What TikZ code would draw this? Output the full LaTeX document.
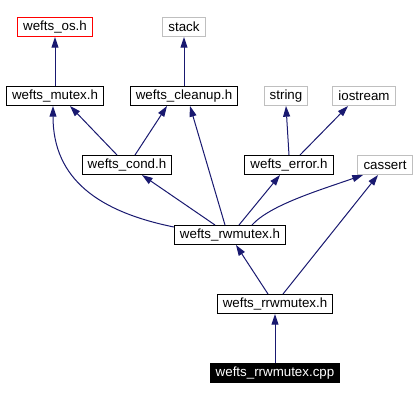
\documentclass[tikz,border=0pt]{standalone}
\usepackage{fontspec}
\setmainfont{Liberation Sans}
\usepackage{xcolor}
\definecolor{edgeblue}{HTML}{191970}
\definecolor{sysgray}{HTML}{BFBFBF}
\definecolor{rootred}{HTML}{FF0000}
\usetikzlibrary{arrows.meta, positioning, calc}

\begin{document}
\begin{tikzpicture}[
        x=0.75pt, y=-0.75pt,
        font=\fontsize{10}{12}\selectfont,
        file_box/.style={
            rectangle,
            draw=black,
            fill=white,
            line width=0.75pt,
            inner xsep=4.2pt,
            inner ysep=0pt,
            minimum height=14.25pt
        },
        sys_box/.style={file_box, draw=sysgray},
        root_box/.style={file_box, draw=rootred},
        main_box/.style={file_box, fill=black, text=white},
        edge/.style={
            -{Triangle[length=8pt, width=5.25pt]},
            draw=edgeblue,
            line width=0.75pt
        }
    ]
    \useasboundingbox (0,0) rectangle (418,401);

    % Top row
    \node[root_box] (os) at (55,27) {wefts\_os.h};
    \node[sys_box] (stack) at (184,27) {stack};

    % Second row
    \node[file_box] (mutex) at (55,96) {wefts\_mutex.h};
    \node[file_box] (cleanup) at (184,96) {wefts\_cleanup.h};
    \node[sys_box] (string) at (286,96) {string};
    \node[sys_box] (iostream) at (364,96) {iostream};

    % Third row
    \node[file_box] (cond) at (127,165) {wefts\_cond.h};
    \node[file_box] (error) at (289,165) {wefts\_error.h};
    \node[sys_box] (cassert) at (385,165) {cassert};

    % Lower chain
    \node[file_box] (rw) at (230,235) {wefts\_rwmutex.h};
    \node[file_box] (rrw) at (275,304) {wefts\_rrwmutex.h};
    \node[main_box] (cpp) at (275,373) {wefts\_rrwmutex.cpp};

    % Include edges
    \draw[edge] (mutex.north) -- (os.south);
    \draw[edge] (cleanup.north) -- (stack.south);
    \draw[edge] ($(cond.north)+(-10,0)$) -- ($(mutex.south)+(15,0)$);
    \draw[edge] ($(cond.north)+(8,0)$) -- ($(cleanup.south)+(-17,0)$);
    \draw[edge] (error.north) -- (string.south);
    \draw[edge] ($(error.north)+(11,0)$) -- ($(iostream.south)+(-16,0)$);

    % Edges from wefts_rwmutex.h
    \draw[edge] ($(rw.north west)+(0,2)$) .. controls (100,212) and (53,180) .. ($(mutex.south)+(-2,0)$);
    \draw[edge] ($(rw.north)+(-15,0)$) -- ($(cond.south)+(15,0)$);
    \draw[edge] ($(rw.north)+(-5,0)$) -- ($(cleanup.south)+(6,0)$);
    \draw[edge] ($(rw.north)+(9,0)$) -- ($(error.south)+(-9,0)$);
    \draw[edge] ($(rw.north)+(22,0)$) .. controls (270,205) and (320,190) .. ($(cassert.south)+(-22,0)$);

    % Edges from wefts_rrwmutex.h
    \draw[edge] ($(rrw.north)+(-7,0)$) -- ($(rw.south)+(6,0)$);
    \draw[edge] ($(rrw.north)+(8,0)$) -- ($(cassert.south)+(-7,0)$);
    \draw[edge] (cpp.north) -- (rrw.south);

\end{tikzpicture}
\end{document}
